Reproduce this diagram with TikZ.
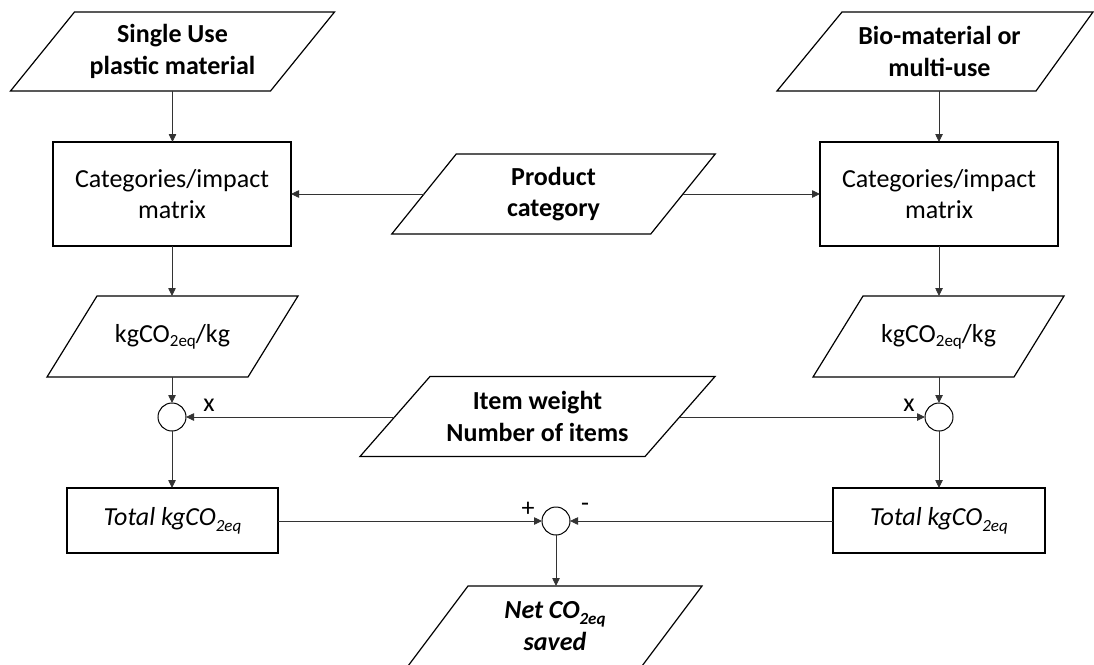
\documentclass[tikz,border=0pt]{standalone}
\usepackage{fontspec}
\setmainfont{Carlito}
\usetikzlibrary{arrows.meta}
\newcommand\paraoutline[5]{%
  \draw[shapeline] ([xshift=#2]#1.north west) -- ([xshift=#3]#1.north east)
    -- ([xshift=#4]#1.south east) -- ([xshift=#5]#1.south west) -- cycle;}
\newcommand\lowsub[2][4pt]{\raisebox{-#1}{\fontsize{17}{17}\selectfont #2}}
\begin{document}
\begin{tikzpicture}[x=1pt,y=-1pt,
  txt/.style={font=\fontsize{26}{31.5}\selectfont, align=center, inner sep=0pt, outer sep=0pt},
  txtb/.style={txt, font=\fontsize{26}{31.5}\selectfont\bfseries},
  boxnode/.style={txt, draw, line width=1.2pt},
  shapeline/.style={line width=1.2pt, line join=miter},
  sumnode/.style={circle, draw, line width=1pt, minimum size=28pt, inner sep=0pt, outer sep=0pt},
  conn/.style={line width=0.8pt, draw=black!80, -{Triangle[length=8pt,width=7.5pt]}},
  lbl/.style={txt, font=\fontsize{26}{31.5}\selectfont}
]
\useasboundingbox (0,0) rectangle (1094,664);

% inputs
\node[txtb, minimum width=260pt, minimum height=79pt] (in1) at (172.5,51.5) {Single Use\\plastic material};
\paraoutline{in1}{32pt}{32pt}{-32pt}{-32pt}
\node[txtb, minimum width=255pt, minimum height=79pt] (in2) at (939.5,51.5) {Bio-material or\\multi-use};
\paraoutline{in2}{30pt}{26pt}{-31pt}{-35pt}

% matrices
\node[boxnode, minimum width=238pt, minimum height=104pt] (catL) at (172,194) {Categories/impact\\matrix};
\node[boxnode, minimum width=238pt, minimum height=104pt] (catR) at (939,194) {Categories/impact\\matrix};

% product category
\node[txtb, minimum width=259pt, minimum height=80pt] (prod) at (553.5,194) {Product\\category};
\paraoutline{prod}{32.25pt}{32.25pt}{-32.25pt}{-32.25pt}

% kg per kg
\node[txt, minimum width=201pt, minimum height=81pt] (kgL) at (172.5,336.5) {kgCO\lowsub{2eq}/kg};
\paraoutline{kgL}{25pt}{25pt}{-25pt}{-25pt}
\node[txt, minimum width=201pt, minimum height=81pt] (kgR) at (938.5,336.5) {kgCO\lowsub{2eq}/kg};
\paraoutline{kgR}{25pt}{25pt}{-25pt}{-25pt}

% item weight
\node[txtb, minimum width=285pt, minimum height=80pt] (item) at (537.5,416.5) {Item weight\\Number of items};
\paraoutline{item}{35pt}{35pt}{-35pt}{-35pt}

% operators
\node[sumnode] (cL) at (172,417) {};
\node[sumnode] (cR) at (939,417) {};
\node[sumnode] (cM) at (556,521) {};

% totals
\node[boxnode, minimum width=211pt, minimum height=65pt] (totL) at (172.5,520.5) {\itshape Total kgCO\lowsub[6pt]{2eq}};
\node[boxnode, minimum width=212pt, minimum height=65pt] (totR) at (939,520.5) {\itshape Total kgCO\lowsub[6pt]{2eq}};

% result
\node[txt, font=\fontsize{26}{31.5}\selectfont\bfseries\itshape, minimum width=234pt, minimum height=80pt] (net) at (555,626) {Net CO\lowsub[6pt]{2eq}\\saved};
\paraoutline{net}{30pt}{30pt}{-30pt}{-30pt}

% labels
\node[lbl] (xL) at (209,405) {x};
\node[lbl] (xR) at (909,405) {x};
\node[lbl] (plus) at (528,509) {+};
\node[lbl] (minus) at (585,507) {-};

% connectors
\draw[conn] (in1.south) -- (in1.south |- catL.north);
\draw[conn] (in2.south -| catR.north) -- (catR.north);
\draw[conn] (prod.west) -- (prod.west -| catL.east);
\draw[conn] (prod.east) -- (prod.east -| catR.west);
\draw[conn] (catL.south) -- (catL.south |- kgL.north);
\draw[conn] (catR.south) -- (catR.south |- kgR.north);
\draw[conn] (kgL.south -| cL.north) -- (cL.north);
\draw[conn] (kgR.south -| cR.north) -- (cR.north);
\draw[conn] (item.west |- cL.east) -- (cL.east);
\draw[conn] (item.east |- cR.west) -- (cR.west);
\draw[conn] (cL.south) -- (cL.south |- totL.north);
\draw[conn] (cR.south) -- (cR.south |- totR.north);
\draw[conn] (totL.east |- cM.west) -- (cM.west);
\draw[conn] (totR.west |- cM.east) -- (cM.east);
\draw[conn] (cM.south) -- (cM.south |- net.north);
\end{tikzpicture}
\end{document}
